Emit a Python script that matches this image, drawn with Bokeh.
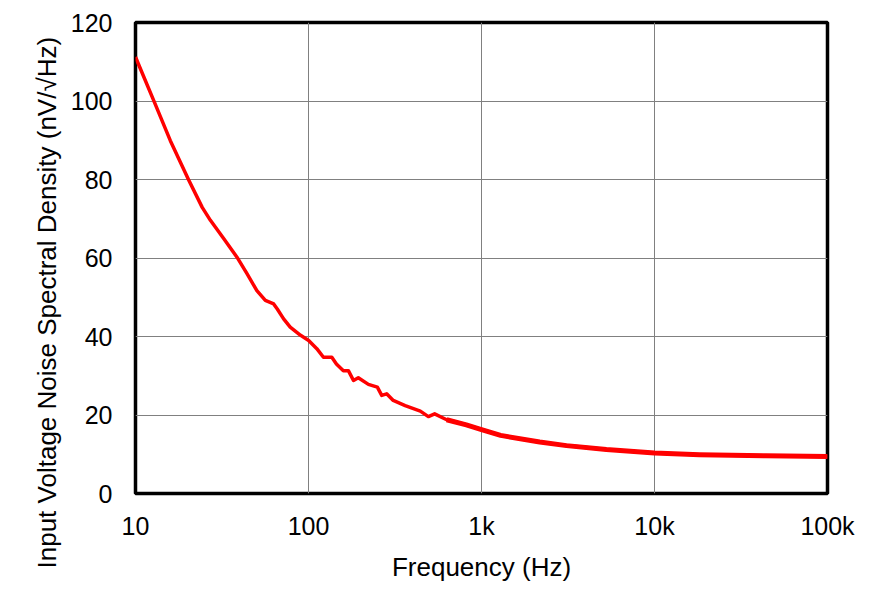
from bokeh.plotting import figure
from bokeh.models import FixedTicker, Range1d, Title
from bokeh.embed import file_html
from bokeh.resources import INLINE

freq_hz = [10, 12.75, 15.9, 20.3, 24.3, 27.1, 32.4, 38.6, 44.1, 50.3, 56.3, 62.9, 66, 71.8,
           78.4, 90, 100.2, 111.7, 122, 136.4, 145, 159, 170, 182, 194, 222, 250,
           265, 283, 309, 362, 443, 493, 536, 629, 817, 1000, 1290, 2170, 3100,
           5270, 10000, 18200, 44000, 100000]
noise_nv = [111.2, 100.1, 89.9, 79.9, 72.9, 69.6, 64.9, 60.2, 56.0, 51.7, 49.2, 48.3, 47.0, 44.5,
            42.4, 40.3, 39.0, 36.9, 34.7, 34.7, 33.0, 31.3, 31.3, 28.8, 29.5, 27.8, 27.1,
            25.0, 25.4, 23.7, 22.4, 21.0, 19.6, 20.3, 18.8, 17.5, 16.3, 14.8, 13.1, 12.2,
            11.2, 10.3, 9.9, 9.6, 9.4]

x_ticks = [10, 100, 1000, 10000, 100000]
x_tick_labels = ["10", "100", "1k", "10k", "100k"]
y_ticks = [0, 20, 40, 60, 80, 100, 120]
x_title = "Frequency (Hz)"
y_title = "Input Voltage Noise Spectral Density (nV/\u221aHz)"

FONT = "Liberation Sans"

p = figure(width=875, height=598, x_axis_type="log", output_backend="svg",
           toolbar_location=None, x_range=Range1d(10, 100000), y_range=Range1d(0, 120),
           min_border_left=135, min_border_right=48, min_border_top=22, min_border_bottom=105)

p.line(freq_hz, noise_nv, line_color="#ff0000", line_width=3.5, line_join="round")
hf = [(f, v) for f, v in zip(freq_hz, noise_nv) if f >= 600]
p.line([f for f, _ in hf], [v for _, v in hf], line_color="#ff0000", line_width=5, line_join="round")

p.outline_line_color = "black"
p.outline_line_width = 3.5
p.background_fill_color = "white"
p.border_fill_color = "white"

p.xaxis.ticker = FixedTicker(ticks=x_ticks, minor_ticks=[])
p.xaxis.major_label_overrides = {t: l for t, l in zip(x_ticks, x_tick_labels)}
p.yaxis.ticker = FixedTicker(ticks=y_ticks, minor_ticks=[])

for ax in (p.xaxis, p.yaxis):
    ax.axis_line_color = None
    ax.major_tick_line_color = None
    ax.minor_tick_line_color = None
    ax.major_tick_out = 0
    ax.major_tick_in = 0
    ax.major_label_text_font = FONT
    ax.major_label_text_font_size = "25px"
    ax.major_label_text_color = "black"
    ax.axis_label_text_font = FONT
    ax.axis_label_text_font_size = "26px"
    ax.axis_label_text_font_style = "normal"
    ax.axis_label_text_color = "black"

p.xaxis.major_label_standoff = 18
p.yaxis.major_label_standoff = 23
p.xaxis.axis_label = x_title
p.xaxis.axis_label_standoff = 9

ytitle = Title(text=y_title, align="left", offset=-75, standoff=12,
               text_font=FONT, text_font_size="26px", text_font_style="normal",
               text_color="black")
p.add_layout(ytitle, "left")

p.xgrid.grid_line_color = "#808080"
p.ygrid.grid_line_color = "#808080"
p.xgrid.grid_line_width = 1
p.ygrid.grid_line_width = 1

open("out.html", "w").write(file_html(p, INLINE))
